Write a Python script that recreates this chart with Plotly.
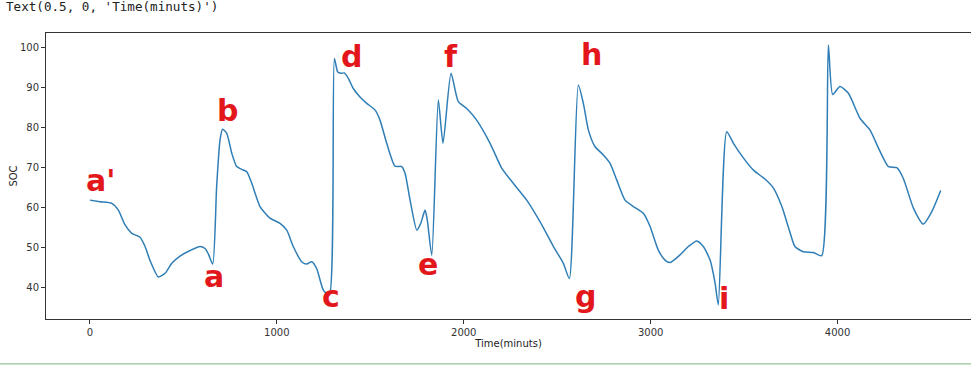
import plotly.graph_objects as go

# ---- data ----
time_min = [0, 54, 117, 152, 188, 224, 268, 295, 321, 366, 402, 438, 482, 536, 589, 616, 634, 657,
            678, 696, 710, 732, 759, 785, 812, 839, 866, 910, 963, 1017, 1053, 1088, 1133, 1160,
            1187, 1213, 1249, 1281, 1308, 1326, 1343, 1361, 1383, 1409, 1445, 1481, 1526, 1552,
            1588, 1632, 1668, 1686, 1713, 1749, 1770, 1793, 1805, 1829, 1864, 1889, 1932, 1971,
            2016, 2069, 2141, 2203, 2265, 2337, 2408, 2480, 2533, 2565, 2613, 2640, 2667, 2702,
            2747, 2783, 2819, 2863, 2908, 2961, 2997, 3041, 3077, 3104, 3157, 3202, 3247, 3282,
            3318, 3345, 3362, 3407, 3443, 3497, 3550, 3613, 3657, 3702, 3747, 3772, 3817, 3871,
            3915, 3951, 3974, 4013, 4058, 4121, 4174, 4219, 4272, 4317, 4352, 4406, 4459, 4504,
            4552]
soc = [61.8, 61.4, 61.0, 59.3, 55.6, 53.5, 52.5, 50.2, 46.8, 42.6, 43.5, 46.0, 47.8, 49.2, 50.2,
       49.7, 48.3, 45.8, 65.2, 76.8, 79.5, 78.5, 73.5, 70.2, 69.5, 68.9, 66.0, 60.2, 57.3, 56.0,
       54.3, 50.2, 46.4, 45.8, 46.4, 44.7, 39.3, 38.0, 97.2, 93.8, 93.5, 93.6, 92.2, 89.7, 87.6,
       86.0, 84.3, 81.8, 76.0, 70.3, 70.2, 68.5, 61.8, 54.3, 56.0, 59.3, 56.8, 48.0, 86.8, 76.0,
       93.5, 86.4, 84.7, 81.8, 76.0, 69.8, 66.0, 61.8, 56.4, 50.2, 46.0, 42.2, 90.6, 86.0, 79.3,
       75.2, 73.1, 71.0, 66.8, 61.8, 60.2, 58.5, 55.2, 49.3, 46.8, 46.2, 48.1, 50.2, 51.6, 50.2,
       46.8, 41.0, 35.6, 78.9, 76.0, 72.3, 69.3, 67.0, 64.8, 60.2, 53.5, 50.2, 48.9, 48.7, 47.9,
       100.6, 88.2, 90.2, 88.5, 82.2, 79.3, 74.8, 70.2, 69.9, 67.2, 59.8, 55.8, 58.9, 64.2]

x_ticks = [0, 1000, 2000, 3000, 4000]
y_ticks = [40, 50, 60, 70, 80, 90, 100]

# hand-written marker letters (data coordinates of their centres)
mark_text = ["a'", "a", "b", "c", "d", "e", "f", "g", "h", "i"]
mark_x = [54, 664, 734, 1290, 1402, 1809, 1932, 2649, 2686, 3393]
mark_y = [66.8, 42.8, 84.3, 37.6, 97.8, 45.6, 97.8, 37.8, 98.1, 37.3]

RED = "#e3171b"

fig = go.Figure()
fig.add_trace(go.Scatter(
    x=time_min, y=soc, mode="lines",
    line=dict(color="#2f7eb6", width=1.5, shape="spline", smoothing=0.6),
    showlegend=False, hoverinfo="skip"))

axis_common = dict(
    showgrid=False, zeroline=False, showline=True, linecolor="#333333", linewidth=1,
    ticks="outside", ticklen=4, tickwidth=1, tickcolor="#333333", automargin=False,
    tickfont=dict(family="DejaVu Sans", size=10, color="#333333"),
)
fig.update_xaxes(**axis_common, range=[-235, 4714], tickvals=x_ticks, mirror=True,
                 title=dict(text="Time(minuts)", font=dict(family="DejaVu Sans", size=10,
                                                            color="#222222"), standoff=2))
fig.update_yaxes(**axis_common, range=[32.08, 103.58], tickvals=y_ticks,
                 title=dict(text="SOC", font=dict(family="DejaVu Sans", size=10,
                                                  color="#222222"), standoff=0))

annotations = []
for t, x, y in zip(mark_text, mark_x, mark_y):
    annotations.append(dict(x=x, y=y, xref="x", yref="y", text="<b>" + t + "</b>",
                            showarrow=False,
                            font=dict(family="DejaVu Sans", size=30, color=RED),
                            xanchor="center", yanchor="middle"))
annotations.append(dict(x=-0.0454, y=1.091, xref="paper", yref="paper",
                        text="Text(0.5, 0, 'Time(minuts)')", showarrow=False,
                        font=dict(family="DejaVu Sans Mono", size=12.6, color="#222222"),
                        xanchor="left", yanchor="middle"))

fig.update_layout(
    width=971, height=369,
    margin=dict(l=46, r=0, t=33, b=50, autoexpand=False),
    paper_bgcolor="white", plot_bgcolor="white",
    annotations=annotations,
    shapes=[dict(type="line", xref="paper", yref="paper", x0=-0.05, x1=1.0,
                 y0=-0.157, y1=-0.157, line=dict(color="#7fb77f", width=1))],
)

fig.write_html("out.html", config={"displayModeBar": False},
               post_script="document.body.style.margin='0';document.body.style.overflow='hidden';")
